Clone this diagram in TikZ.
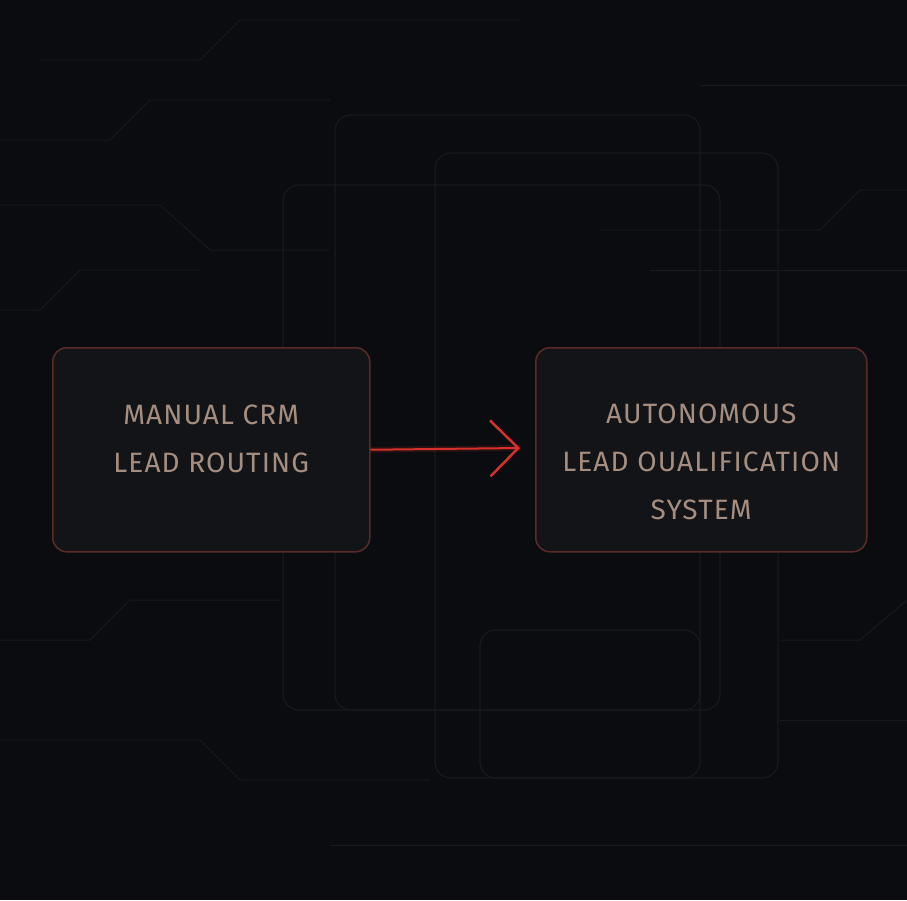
\documentclass[tikz,border=0pt]{standalone}
\usepackage{fontspec}
\setmainfont{Fira Sans}[LetterSpace=4]
\usetikzlibrary{arrows.meta}
\definecolor{bg}{HTML}{0A0C0F}
\definecolor{boxfill}{HTML}{121417}
\definecolor{boxedge}{HTML}{5A2C28}
\definecolor{txt}{HTML}{A58E80}
\definecolor{faint}{HTML}{16191D}
\definecolor{arr}{HTML}{D8302A}
\tikzset{
  card/.style={draw=boxedge, line width=1.5pt, fill=boxfill, rounded corners=14pt},
  ghost/.style={draw=faint, line width=1.2pt, rounded corners=16pt},
  wire/.style={draw=faint, line width=1pt},
  lbl/.style={text=txt, font=\fontsize{28}{48}\selectfont, align=center}
}
\begin{document}
\begin{tikzpicture}[x=1pt,y=-1pt]
\fill[bg] (0,0) rectangle (907,900);
\useasboundingbox (0,0) rectangle (907,900);
% circuit wires
\draw[wire] (0,140) -- (110,140) -- (150,100) -- (330,100);
\draw[wire] (0,205) -- (160,205) -- (210,250) -- (330,250);
\draw[wire] (0,310) -- (40,310) -- (80,270) -- (200,270);
\draw[wire] (700,85) -- (907,85);
\draw[wire] (600,230) -- (820,230) -- (860,190) -- (907,190);
\draw[wire] (650,270) -- (907,270);
\draw[wire] (0,640) -- (90,640) -- (130,600) -- (280,600);
\draw[wire] (0,740) -- (200,740) -- (240,780) -- (430,780);
\draw[wire] (780,640) -- (860,640) -- (907,600);
\draw[wire] (780,720) -- (907,720);
\draw[wire] (330,845) -- (907,845);
\draw[wire] (40,60) -- (200,60) -- (240,20) -- (520,20);
% ghost panels
\draw[ghost] (335,115) rectangle (700,710);
\draw[ghost] (435,153) rectangle (778,778);
\draw[ghost] (283,185) rectangle (720,710);
\draw[ghost] (480,630) rectangle (700,778);
% cards
\node[card, minimum width=317pt, minimum height=204pt, anchor=north west] (a) at (52,347) {};
\node[card, minimum width=331pt, minimum height=204pt, anchor=north west] (b) at (535,347) {};
\node[lbl] at (a.center) [yshift=11pt] {MANUAL CRM\\LEAD ROUTING};
\node[lbl] at (b.center) [yshift=-12pt] {AUTONOMOUS\\LEAD OUALIFICATION\\SYSTEM};
\coordinate (t) at (520,448);
\draw[arr, line width=6pt, opacity=0.15] (a.east) -- (t);
\draw[arr, line width=2pt, -{Straight Barb[length=28pt,width=56pt,line width=2.5pt]}] (a.east) -- (t);
\end{tikzpicture}
\end{document}
